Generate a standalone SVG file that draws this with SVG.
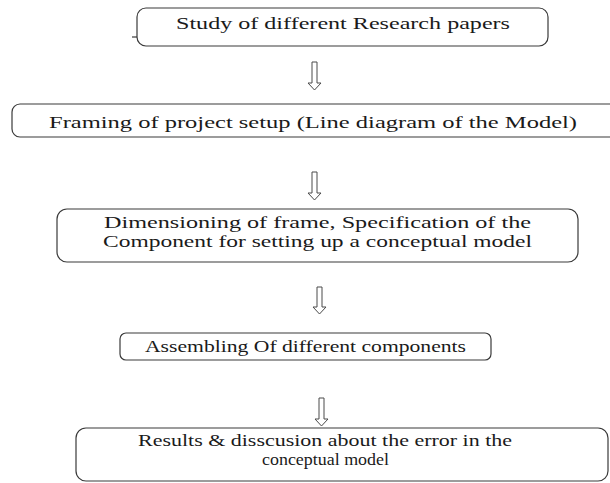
<svg xmlns="http://www.w3.org/2000/svg" width="610" height="483" viewBox="0 0 610 483">
<style>
.box{fill:#fff;stroke:#3a3a3a;stroke-width:1.2}
.arr{fill:#fff;stroke:#4a4a4a;stroke-width:1}
</style>
<rect width="610" height="483" fill="#fff"/>
<g font-family="Liberation Serif, serif" font-size="17.5" fill="#1a1a1a">
<g id="node1">
<rect class="box" x="137" y="8" width="411" height="38" rx="9"/>
<line x1="132" y1="37" x2="137" y2="37" stroke="#3a3a3a" stroke-width="1.2"/>
<text x="176" y="29" textLength="334" lengthAdjust="spacingAndGlyphs">Study of different Research papers</text>
</g>
<g id="node2">
<rect class="box" x="12" y="104" width="610" height="33" rx="8"/>
<text x="49" y="128" textLength="528" lengthAdjust="spacingAndGlyphs">Framing of project setup (Line diagram of the Model)</text>
</g>
<g id="node3">
<rect class="box" x="57" y="209" width="521" height="53" rx="10"/>
<text x="104" y="228" textLength="427" lengthAdjust="spacingAndGlyphs">Dimensioning of frame, Specification of the</text>
<text x="103" y="247" textLength="429" lengthAdjust="spacingAndGlyphs">Component for setting up a conceptual model</text>
</g>
<g id="node4">
<rect class="box" x="120" y="333" width="371" height="27" rx="6"/>
<text x="145" y="352" textLength="321" lengthAdjust="spacingAndGlyphs">Assembling Of different components</text>
</g>
<g id="node5">
<rect class="box" x="76" y="428" width="532" height="53" rx="10"/>
<text x="138" y="446" textLength="374" lengthAdjust="spacingAndGlyphs">Results &amp; disscusion about the error in the</text>
<text x="262" y="465" textLength="127" lengthAdjust="spacingAndGlyphs">conceptual model</text>
</g>
</g>
<g id="connectors">
<path class="arr" d="M312,62 H317 V83 H321 L314.5,90 L308,83 H312 Z"/>
<path class="arr" d="M312,172 H317 V193 H321 L314.5,200 L308,193 H312 Z"/>
<path class="arr" d="M317,287 H322 V307 H326 L319.5,314 L313,307 H317 Z"/>
<path class="arr" d="M319,398 H324 V419 H328 L321.5,426 L315,419 H319 Z"/>
</g>
</svg>
